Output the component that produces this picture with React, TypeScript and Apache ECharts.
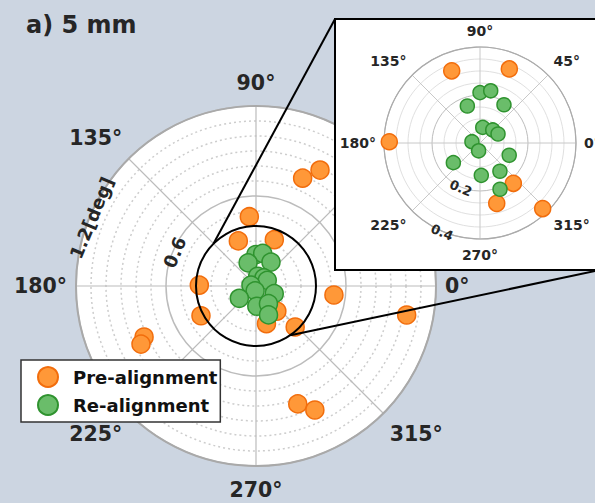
import React, { useEffect, useRef } from "react";
import * as echarts from "echarts";

// ---------- data ----------
const seriesNames = ["Pre-alignment", "Re-alignment"];

// Pre-alignment points: radial value [deg] and polar angle [deg]
const preR = [0.783, 0.883, 0.464, 0.323, 0.332, 0.378, 0.417, 0.82, 0.859, 0.523, 1.023, 0.834, 0.915, 0.218, 0.261, 0.378];
const preTheta = [66.6, 61.1, 95.5, 111.4, 68.4, 179.2, 208.4, 204.5, 206.8, 353.4, 349.1, 289.5, 295.4, 309.6, 285.5, 313.7];

// Re-alignment points
const reR = [0.21, 0.222, 0.163, 0.188, 0.066, 0.076, 0.084, 0.034, 0.033, 0.132, 0.138, 0.135, 0.144, 0.21];
const reTheta = [90, 78.4, 108.9, 57.9, 80, 45.7, 26.6, 170.8, 260, 337.2, 216.4, 272.3, 305.2, 293.4];

// tick labels
const mainRadialTicks = [0.6, 1.2];
const mainRadialLabels = ["0.6", "1.2[deg]"];
const insetRadialTicks = [0.2, 0.4];
const insetRadialLabels = ["0.2", "0.4"];
const angleUnit = "°";
const titleText = "a) 5 mm";

// ---------- layout / style ----------
const W = 595, H = 503;
const BG = "#ccd5e1";
const FONT = "DejaVu Sans";
const TXT = "#262626";
const ORANGE = "#ff9838", ORANGE_EDGE = "#f26d0c";
const GREEN = "#6abd6a", GREEN_EDGE = "#2f932f";

const CX = 256, CY = 286, R_MAIN = 180, MAIN_MAX = 1.2;
const ICX = 480, ICY = 143, R_INSET = 96, INSET_MAX = 0.4;
const BOX = { x: 335, y: 19, w: 265, h: 251 };

const pt = (cx: number, cy: number, rpx: number, deg: number) => [
  cx + rpx * Math.cos((deg * Math.PI) / 180),
  cy - rpx * Math.sin((deg * Math.PI) / 180),
];

function buildOption() {
  const pre = preR.map((r, i) => [r, preTheta[i]]);
  const re = reR.map((r, i) => [r, reTheta[i]]);
  const mainScale = R_MAIN / MAIN_MAX;
  const insetScale = R_INSET / INSET_MAX;
  const zoomR = INSET_MAX * mainScale;

  const angleLabel = (size: number, margin: number, pad: number) => ({
    show: true,
    margin,
    padding: [pad, 0, pad, 0],
    fontFamily: FONT,
    fontWeight: "bold" as const,
    fontSize: size,
    color: TXT,
    formatter: (v: number) => (v >= 360 ? "" : `${v}${angleUnit}`),
  });

  const c1 = pt(CX, CY, zoomR, 135);
  const c2 = pt(CX, CY, zoomR, -55);

  const textEl = (text: string, x: number, y: number, size: number, rot: number, align = "center", z = 10) => ({
    type: "text",
    x,
    y,
    rotation: (rot * Math.PI) / 180,
    z,
    silent: true,
    style: {
      text,
      fill: TXT,
      fontFamily: FONT,
      fontWeight: "bold",
      fontSize: size,
      align,
      textAlign: align,
      verticalAlign: "middle",
      textVerticalAlign: "middle",
    },
  });

  const graphics: any[] = [
    textEl(titleText, 26, 25, 24, 0, "left"),
    {
      type: "circle",
      z: 0,
      silent: true,
      shape: { cx: CX, cy: CY, r: R_MAIN },
      style: { fill: "#ffffff" },
    },
    {
      type: "rect",
      z: 2,
      silent: true,
      shape: { x: BOX.x, y: BOX.y, width: BOX.w, height: BOX.h },
      style: { fill: "#ffffff", stroke: "#000000", lineWidth: 2 },
    },
    {
      type: "circle",
      z: 4,
      silent: true,
      shape: { cx: CX, cy: CY, r: zoomR },
      style: { fill: "none", stroke: "#000000", lineWidth: 2 },
    },
    {
      type: "line",
      z: 4,
      silent: true,
      shape: { x1: c1[0], y1: c1[1], x2: BOX.x, y2: BOX.y },
      style: { stroke: "#000000", lineWidth: 2 },
    },
    {
      type: "line",
      z: 4,
      silent: true,
      shape: { x1: c2[0], y1: c2[1], x2: BOX.x + BOX.w, y2: BOX.y + BOX.h },
      style: { stroke: "#000000", lineWidth: 2 },
    },
  ];
  mainRadialTicks.forEach((v, i) => {
    const p = pt(CX, CY, v * mainScale - 2, 157.5);
    graphics.push(textEl(mainRadialLabels[i], p[0], p[1], 18, 67.5, "center", 5));
  });
  insetRadialTicks.forEach((v, i) => {
    const p = pt(ICX, ICY, v * insetScale + 1, 247);
    graphics.push(textEl(insetRadialLabels[i], p[0], p[1], 13, -23));
  });

  return {
    animation: false,
    backgroundColor: BG,
    polar: [
      { center: [CX, CY], radius: R_MAIN },
      { center: [ICX, ICY], radius: R_INSET },
    ],
    angleAxis: [
      {
        polarIndex: 0,
        type: "value",
        min: 0,
        max: 360,
        interval: 45,
        startAngle: 0,
        clockwise: false,
        z: 1,
        axisLine: { show: true, lineStyle: { color: "#a9a9a9", width: 2 } },
        axisTick: { show: false },
        axisLabel: angleLabel(20.5, 9, 4),
        splitLine: { show: true, lineStyle: { color: "#bcbcbc", width: 1.2 } },
      },
      {
        polarIndex: 1,
        type: "value",
        min: 0,
        max: 360,
        interval: 45,
        startAngle: 0,
        clockwise: false,
        z: 3,
        axisLine: { show: true, lineStyle: { color: "#ababab", width: 1.2 } },
        axisTick: { show: false },
        axisLabel: angleLabel(14, 8, 1),
        splitLine: { show: true, lineStyle: { color: "#c8c8c8", width: 1 } },
      },
    ],
    radiusAxis: [
      {
        polarIndex: 0,
        type: "value",
        min: 0,
        max: MAIN_MAX,
        interval: 0.6,
        z: 1,
        axisLine: { show: false },
        axisTick: { show: false },
        axisLabel: { show: false },
        splitLine: { show: true, lineStyle: { color: "#bcbcbc", width: 1.5 } },
        minorTick: { show: false, splitNumber: 6 },
        minorSplitLine: { show: true, lineStyle: { color: "#cdcdcd", width: 1.5, type: [2, 3] } },
      },
      {
        polarIndex: 1,
        type: "value",
        min: 0,
        max: INSET_MAX,
        interval: 0.2,
        z: 3,
        axisLine: { show: false },
        axisTick: { show: false },
        axisLabel: { show: false },
        splitLine: { show: true, lineStyle: { color: "#bdbdbd", width: 1 } },
        minorTick: { show: false, splitNumber: 4 },
        minorSplitLine: { show: true, lineStyle: { color: "#e0e0e0", width: 1 } },
      },
    ],
    legend: {
      data: seriesNames,
      left: 21,
      top: 360,
      orient: "vertical",
      backgroundColor: "#ffffff",
      borderColor: "#333333",
      borderWidth: 1.5,
      borderRadius: 0,
      padding: [6, 3, 6, 16],
      itemGap: 6,
      itemWidth: 20,
      itemHeight: 20,
      icon: "circle",
      selectedMode: false,
      z: 8,
      textStyle: {
        fontFamily: FONT,
        fontWeight: "bold",
        fontSize: 18,
        lineHeight: 20,
        color: "#111111",
        padding: [0, 0, 0, 10],
      },
    },
    graphic: { elements: graphics },
    series: [
      {
        type: "scatter",
        name: seriesNames[0],
        coordinateSystem: "polar",
        polarIndex: 0,
        data: pre,
        symbolSize: 18,
        silent: true,
        z: 3,
        itemStyle: { color: ORANGE, borderColor: ORANGE_EDGE, borderWidth: 1.5, opacity: 1 },
      },
      {
        type: "scatter",
        name: seriesNames[1],
        coordinateSystem: "polar",
        polarIndex: 0,
        data: re,
        symbolSize: 18,
        silent: true,
        z: 3,
        itemStyle: { color: GREEN, borderColor: GREEN_EDGE, borderWidth: 1.5, opacity: 1 },
      },
      {
        type: "scatter",
        name: seriesNames[0],
        coordinateSystem: "polar",
        polarIndex: 1,
        data: pre.filter((d) => d[0] <= INSET_MAX),
        symbolSize: 16,
        silent: true,
        z: 6,
        itemStyle: { color: ORANGE, borderColor: ORANGE_EDGE, borderWidth: 1.5, opacity: 1 },
      },
      {
        type: "scatter",
        name: seriesNames[1],
        coordinateSystem: "polar",
        polarIndex: 1,
        data: re.filter((d) => d[0] <= INSET_MAX),
        symbolSize: 14,
        silent: true,
        z: 6,
        itemStyle: { color: GREEN, borderColor: GREEN_EDGE, borderWidth: 1.5, opacity: 1 },
      },
    ],
  };
}

export default function App() {
  const ref = useRef<HTMLDivElement>(null);
  useEffect(() => {
    if (!ref.current) return;
    const chart = echarts.init(ref.current, null, { renderer: "svg" });
    chart.setOption(buildOption() as any);
    return () => chart.dispose();
  }, []);
  return (
    <div
      ref={ref}
      style={{ position: "fixed", left: 0, top: 0, width: W, height: H, background: BG }}
    />
  );
}
